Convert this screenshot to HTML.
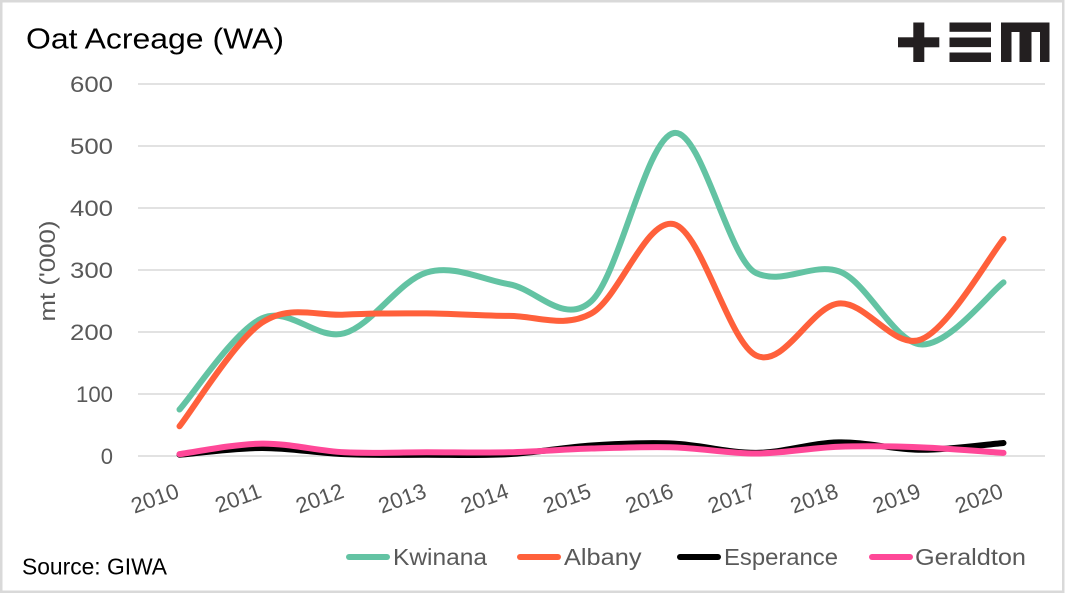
<!DOCTYPE html>
<html>
<head>
<meta charset="utf-8">
<style>
  html, body { margin: 0; padding: 0; background: #fff; }
  body { width: 1065px; height: 593px; overflow: hidden; }
  svg { display: block; }
  text { font-family: "Liberation Sans", Arial, sans-serif; }
</style>
</head>
<body>
<svg width="1065" height="593" viewBox="0 0 1065 593" xmlns="http://www.w3.org/2000/svg">
  <rect x="0" y="0" width="1065" height="593" fill="#ffffff"/>
  <!-- outer border -->
  <rect x="1.25" y="1.25" width="1062" height="590.5" fill="none" stroke="#d9d9d9" stroke-width="2.5"/>

  <!-- title -->
  <text x="26" y="48.5" font-size="29" fill="#000" textLength="258" lengthAdjust="spacingAndGlyphs">Oat Acreage (WA)</text>

  <!-- logo -->
  <g fill="#231f20">
    <rect x="898" y="37.3" width="41.3" height="10"/>
    <rect x="913.3" y="22.5" width="11" height="39.5"/>
    <rect x="949.5" y="22.5" width="41.5" height="9.3"/>
    <rect x="949.5" y="37.5" width="41.5" height="9.6"/>
    <rect x="949.5" y="52.5" width="41.5" height="9.5"/>
    <rect x="1001" y="22.5" width="48.5" height="9.5"/>
    <rect x="1001" y="22.5" width="10.5" height="39.5"/>
    <rect x="1019.5" y="22.5" width="12" height="39.5"/>
    <rect x="1040" y="22.5" width="9.5" height="39.5"/>
  </g>

  <!-- gridlines -->
  <g stroke="#d9d9d9" stroke-width="1.6">
    <line x1="138" y1="84" x2="1045" y2="84"/>
    <line x1="138" y1="146" x2="1045" y2="146"/>
    <line x1="138" y1="208" x2="1045" y2="208"/>
    <line x1="138" y1="270" x2="1045" y2="270"/>
    <line x1="138" y1="332" x2="1045" y2="332"/>
    <line x1="138" y1="394" x2="1045" y2="394"/>
    <line x1="138" y1="456" x2="1045" y2="456"/>
  </g>

  <!-- y tick labels -->
  <g font-size="22" fill="#595959" text-anchor="end">
    <text x="113" y="92" textLength="43" lengthAdjust="spacingAndGlyphs">600</text>
    <text x="113" y="154" textLength="43" lengthAdjust="spacingAndGlyphs">500</text>
    <text x="113" y="216" textLength="43" lengthAdjust="spacingAndGlyphs">400</text>
    <text x="113" y="278" textLength="43" lengthAdjust="spacingAndGlyphs">300</text>
    <text x="113" y="340" textLength="43" lengthAdjust="spacingAndGlyphs">200</text>
    <text x="113" y="402" textLength="37" lengthAdjust="spacingAndGlyphs">100</text>
    <text x="113" y="464">0</text>
  </g>

  <!-- y axis title -->
  <text x="55" y="271" font-size="22" fill="#595959" text-anchor="middle" transform="rotate(-90 55 271)" textLength="101" lengthAdjust="spacingAndGlyphs">mt ('000)</text>

  <!-- x tick labels -->
  <g font-size="22" fill="#555555" text-anchor="end">
    <text transform="translate(180.5 497) rotate(-20)">2010</text>
    <text transform="translate(262.9 497) rotate(-20)">2011</text>
    <text transform="translate(345.3 497) rotate(-20)">2012</text>
    <text transform="translate(427.7 497) rotate(-20)">2013</text>
    <text transform="translate(510.1 497) rotate(-20)">2014</text>
    <text transform="translate(592.5 497) rotate(-20)">2015</text>
    <text transform="translate(674.9 497) rotate(-20)">2016</text>
    <text transform="translate(757.3 497) rotate(-20)">2017</text>
    <text transform="translate(839.7 497) rotate(-20)">2018</text>
    <text transform="translate(922.1 497) rotate(-20)">2019</text>
    <text transform="translate(1004.5 497) rotate(-20)">2020</text>
  </g>

  <!-- series -->
  <g fill="none" stroke-width="6" stroke-linecap="round" stroke-linejoin="round">
    <path stroke="#63C3A3" d="M179.5,409.5 C193.23,394.31 234.43,331.07 261.9,318.36 C289.37,305.65 316.83,340.89 344.3,333.24 C371.77,325.59 399.23,280.64 426.7,272.48 C454.17,264.32 481.63,279.51 509.1,284.26 C536.57,289.01 564.03,326.21 591.5,301 C618.97,275.79 646.43,137.63 673.9,132.98 C701.37,128.33 728.83,261.1 756.3,273.1 C783.77,285.1 811.23,262.5 838.7,271.24 C866.17,280 893.63,342.54 921.1,344.4 C948.57,346.26 989.77,292.73 1003.5,282.4"/>
    <path stroke="#FF603B" d="M179.5,426.24 C193.23,408.98 234.43,341.3 261.9,322.7 C289.37,304.1 316.83,316.19 344.3,314.64 C371.77,313.09 399.23,313.19 426.7,313.4 C454.17,313.61 481.63,315.88 509.1,315.88 C536.57,315.88 564.03,328.69 591.5,313.4 C618.97,298.11 646.43,217.09 673.9,224.12 C701.37,231.15 728.83,342.33 756.3,355.56 C783.77,368.79 811.23,306.17 838.7,303.48 C866.17,300.79 893.63,350.19 921.1,339.44 C948.57,328.69 989.77,255.74 1003.5,239"/>
    <path stroke="#000000" d="M179.5,454.76 C193.23,453.62 234.43,448.04 261.9,447.94 C289.37,447.84 316.83,453.0 344.3,454.14 C371.77,455.28 399.23,454.76 426.7,454.76 C454.17,454.76 481.63,455.69 509.1,454.14 C536.57,452.59 564.03,447.22 591.5,445.46 C618.97,443.7 646.43,442.36 673.9,443.6 C701.37,444.84 728.83,453.11 756.3,452.9 C783.77,452.69 811.23,442.88 838.7,442.36 C866.17,441.84 893.63,449.7 921.1,449.8 C948.57,449.9 989.77,444.12 1003.5,442.98"/>
    <path stroke="#FF4898" d="M179.5,454.14 C193.23,452.38 234.43,443.91 261.9,443.6 C289.37,443.29 316.83,450.83 344.3,452.28 C371.77,453.73 399.23,452.28 426.7,452.28 C454.17,452.28 481.63,452.9 509.1,452.28 C536.57,451.66 564.03,449.39 591.5,448.56 C618.97,447.73 646.43,446.49 673.9,447.32 C701.37,448.15 728.83,453.62 756.3,453.52 C783.77,453.42 811.23,447.73 838.7,446.7 C866.17,445.67 893.63,446.29 921.1,447.32 C948.57,448.35 989.77,451.97 1003.5,452.9"/>
  </g>

  <!-- legend -->
  <g stroke-width="6" stroke-linecap="round">
    <line x1="349" y1="557" x2="387" y2="557" stroke="#63C3A3"/>
    <line x1="520" y1="557" x2="558" y2="557" stroke="#FF603B"/>
    <line x1="680" y1="557" x2="718" y2="557" stroke="#000000"/>
    <line x1="872" y1="557" x2="910" y2="557" stroke="#FF4898"/>
  </g>
  <g font-size="23" fill="#595959">
    <text x="393" y="565" textLength="94" lengthAdjust="spacingAndGlyphs">Kwinana</text>
    <text x="564" y="565" textLength="77.5" lengthAdjust="spacingAndGlyphs">Albany</text>
    <text x="724" y="565" textLength="114" lengthAdjust="spacingAndGlyphs">Esperance</text>
    <text x="915" y="565" textLength="111" lengthAdjust="spacingAndGlyphs">Geraldton</text>
  </g>

  <!-- source -->
  <text x="22" y="574.5" font-size="23" fill="#000" textLength="145" lengthAdjust="spacingAndGlyphs">Source: GIWA</text>
</svg>
</body>
</html>
